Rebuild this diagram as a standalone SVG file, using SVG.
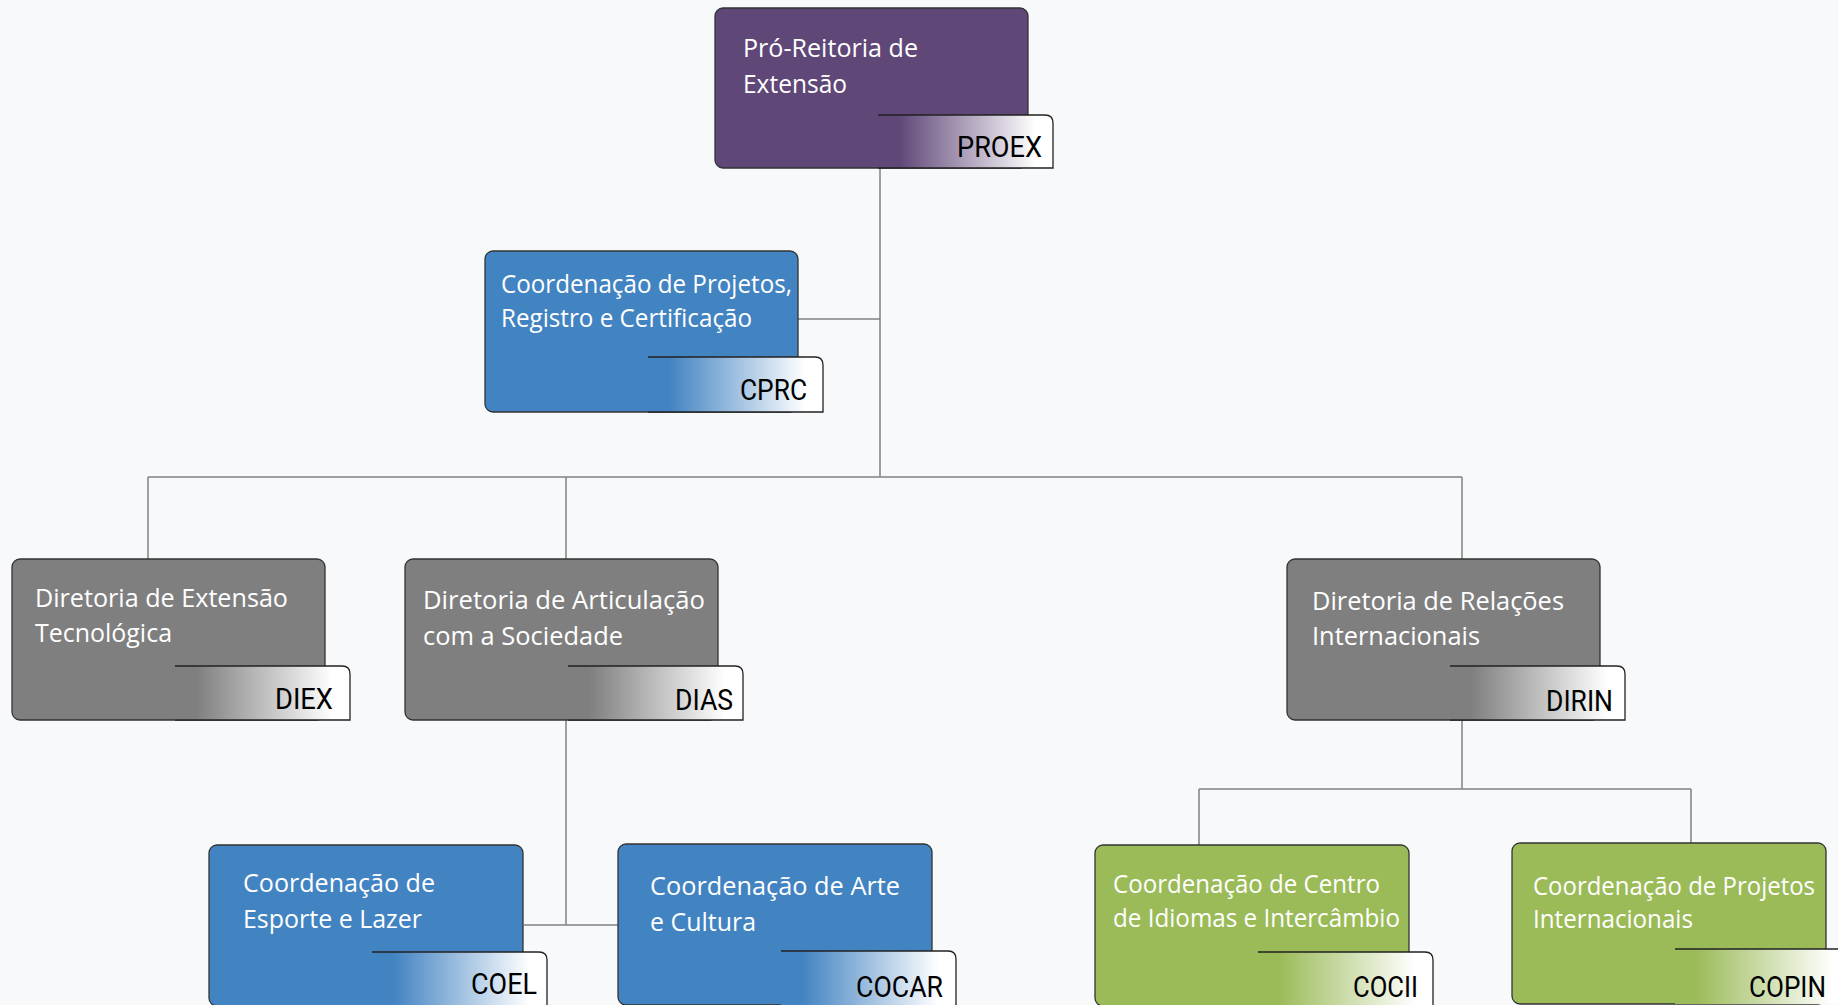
<svg xmlns="http://www.w3.org/2000/svg" width="1838" height="1005" viewBox="0 0 1838 1005">
<style>
.bg{fill:#f8f9fb}
.box{stroke:#333;stroke-width:1.3}
.purple{fill:#5f4778}
.blue{fill:#4283c2}
.gray{fill:#7f7f7f}
.green{fill:#9bbb59}
.tabline{fill:none;stroke:#222;stroke-width:1.3}
.t{font-family:"Open Sans","Noto Sans",sans-serif;font-size:25px;fill:#fff}
.ab{font-family:Roboto,"Liberation Sans",sans-serif;font-size:30px;fill:#000;text-anchor:end}
.conn{fill:none;stroke:#808080;stroke-width:1.5}
</style>
<defs>
<linearGradient id="gP" x1="0" y1="0" x2="1" y2="0"><stop offset="0" stop-color="#5f4778"/><stop offset="0.12" stop-color="#5f4778"/><stop offset="0.9" stop-color="#fff"/><stop offset="1" stop-color="#fff"/></linearGradient>
<linearGradient id="gB" x1="0" y1="0" x2="1" y2="0"><stop offset="0" stop-color="#4283c2"/><stop offset="0.12" stop-color="#4283c2"/><stop offset="0.9" stop-color="#fff"/><stop offset="1" stop-color="#fff"/></linearGradient>
<linearGradient id="gG" x1="0" y1="0" x2="1" y2="0"><stop offset="0" stop-color="#7f7f7f"/><stop offset="0.12" stop-color="#7f7f7f"/><stop offset="0.9" stop-color="#fff"/><stop offset="1" stop-color="#fff"/></linearGradient>
<linearGradient id="gV" x1="0" y1="0" x2="1" y2="0"><stop offset="0" stop-color="#9bbb59"/><stop offset="0.12" stop-color="#9bbb59"/><stop offset="0.9" stop-color="#fff"/><stop offset="1" stop-color="#fff"/></linearGradient>
</defs>
<rect class="bg" x="0" y="0" width="1838" height="1005"/>
<g id="connectors">
<path class="conn" d="M880,168 V477"/>
<path class="conn" d="M798,319 H880"/>
<path class="conn" d="M148,477 H1462"/>
<path class="conn" d="M148,477 V559"/>
<path class="conn" d="M566,477 V559"/>
<path class="conn" d="M1462,477 V559"/>
<path class="conn" d="M566,720 V925"/>
<path class="conn" d="M524,925 H618"/>
<path class="conn" d="M1462,720 V789"/>
<path class="conn" d="M1199,789 H1691"/>
<path class="conn" d="M1199,789 V845"/>
<path class="conn" d="M1691,789 V843"/>
</g>
<g id="proex">
<rect class="box purple" x="715" y="8" width="313" height="160" rx="8"/>
<path d="M878,168 V121 Q878,115 884,115 H1045 Q1053,115 1053,123 V168 Z" fill="url(#gP)"/>
<path class="tabline" d="M878,115 H1045 Q1053,115 1053,123 V168 H878"/>
<text class="t" x="743" y="57" textLength="175" lengthAdjust="spacingAndGlyphs">Pró-Reitoria de</text>
<text class="t" x="743" y="93" textLength="104" lengthAdjust="spacingAndGlyphs">Extensão</text>
<text class="ab" x="1042" y="157" textLength="85" lengthAdjust="spacingAndGlyphs">PROEX</text>
</g>
<g id="cprc">
<rect class="box blue" x="485" y="251" width="313" height="161" rx="8"/>
<path d="M648,412 V363 Q648,357 654,357 H815 Q823,357 823,365 V412 Z" fill="url(#gB)"/>
<path class="tabline" d="M648,357 H815 Q823,357 823,365 V412 H648"/>
<text class="t" x="501" y="293" textLength="291" lengthAdjust="spacingAndGlyphs">Coordenação de Projetos,</text>
<text class="t" x="501" y="327" textLength="251" lengthAdjust="spacingAndGlyphs">Registro e Certificação</text>
<text class="ab" x="807" y="400" textLength="67" lengthAdjust="spacingAndGlyphs">CPRC</text>
</g>
<g id="diex">
<rect class="box gray" x="12" y="559" width="313" height="161" rx="8"/>
<path d="M175,720 V672 Q175,666 181,666 H342 Q350,666 350,674 V720 Z" fill="url(#gG)"/>
<path class="tabline" d="M175,666 H342 Q350,666 350,674 V720 H175"/>
<text class="t" x="35" y="607" textLength="253" lengthAdjust="spacingAndGlyphs">Diretoria de Extensão</text>
<text class="t" x="35" y="642" textLength="137" lengthAdjust="spacingAndGlyphs">Tecnológica</text>
<text class="ab" x="333" y="709" textLength="58" lengthAdjust="spacingAndGlyphs">DIEX</text>
</g>
<g id="dias">
<rect class="box gray" x="405" y="559" width="313" height="161" rx="8"/>
<path d="M568,720 V672 Q568,666 574,666 H735 Q743,666 743,674 V720 Z" fill="url(#gG)"/>
<path class="tabline" d="M568,666 H735 Q743,666 743,674 V720 H568"/>
<text class="t" x="423" y="609" textLength="282" lengthAdjust="spacingAndGlyphs">Diretoria de Articulação</text>
<text class="t" x="423" y="645" textLength="200" lengthAdjust="spacingAndGlyphs">com a Sociedade</text>
<text class="ab" x="733" y="710" textLength="58" lengthAdjust="spacingAndGlyphs">DIAS</text>
</g>
<g id="dirin">
<rect class="box gray" x="1287" y="559" width="313" height="161" rx="8"/>
<path d="M1450,720 V672 Q1450,666 1456,666 H1617 Q1625,666 1625,674 V720 Z" fill="url(#gG)"/>
<path class="tabline" d="M1450,666 H1617 Q1625,666 1625,674 V720 H1450"/>
<text class="t" x="1312" y="610" textLength="252" lengthAdjust="spacingAndGlyphs">Diretoria de Relações</text>
<text class="t" x="1312" y="645" textLength="168" lengthAdjust="spacingAndGlyphs">Internacionais</text>
<text class="ab" x="1613" y="711" textLength="67" lengthAdjust="spacingAndGlyphs">DIRIN</text>
</g>
<g id="coel">
<rect class="box blue" x="209" y="845" width="314" height="161" rx="8"/>
<path d="M372,1006 V958 Q372,952 378,952 H539 Q547,952 547,960 V1006 Z" fill="url(#gB)"/>
<path class="tabline" d="M372,952 H539 Q547,952 547,960 V1006"/>
<text class="t" x="243" y="892" textLength="192" lengthAdjust="spacingAndGlyphs">Coordenação de</text>
<text class="t" x="243" y="928" textLength="179" lengthAdjust="spacingAndGlyphs">Esporte e Lazer</text>
<text class="ab" x="537" y="994" textLength="66" lengthAdjust="spacingAndGlyphs">COEL</text>
</g>
<g id="cocar">
<rect class="box blue" x="618" y="844" width="314" height="161" rx="8"/>
<path d="M781,1005 V957 Q781,951 787,951 H948 Q956,951 956,959 V1005 Z" fill="url(#gB)"/>
<path class="tabline" d="M781,951 H948 Q956,951 956,959 V1005"/>
<text class="t" x="650" y="895" textLength="250" lengthAdjust="spacingAndGlyphs">Coordenação de Arte</text>
<text class="t" x="650" y="931" textLength="106" lengthAdjust="spacingAndGlyphs">e Cultura</text>
<text class="ab" x="943" y="997" textLength="87" lengthAdjust="spacingAndGlyphs">COCAR</text>
</g>
<g id="cocii">
<rect class="box green" x="1095" y="845" width="314" height="161" rx="8"/>
<path d="M1258,1006 V958 Q1258,952 1264,952 H1425 Q1433,952 1433,960 V1006 Z" fill="url(#gV)"/>
<path class="tabline" d="M1258,952 H1425 Q1433,952 1433,960 V1006"/>
<text class="t" x="1113" y="893" textLength="267" lengthAdjust="spacingAndGlyphs">Coordenação de Centro</text>
<text class="t" x="1113" y="927" textLength="287" lengthAdjust="spacingAndGlyphs">de Idiomas e Intercâmbio</text>
<text class="ab" x="1418" y="997" textLength="65" lengthAdjust="spacingAndGlyphs">COCII</text>
</g>
<g id="copin">
<rect class="box green" x="1512" y="843" width="314" height="161" rx="8"/>
<path d="M1675,1004 V955 Q1675,949 1681,949 H1842 Q1850,949 1850,957 V1004 Z" fill="url(#gV)"/>
<path class="tabline" d="M1675,949 H1842 Q1850,949 1850,957 V1004"/>
<text class="t" x="1533" y="895" textLength="282" lengthAdjust="spacingAndGlyphs">Coordenação de Projetos</text>
<text class="t" x="1533" y="928" textLength="160" lengthAdjust="spacingAndGlyphs">Internacionais</text>
<text class="ab" x="1826" y="997" textLength="77" lengthAdjust="spacingAndGlyphs">COPIN</text>
</g>
</svg>
